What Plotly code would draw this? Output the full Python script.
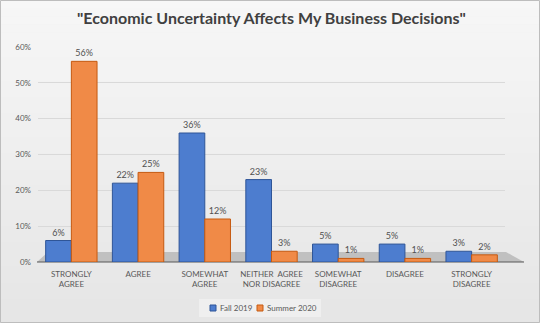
import plotly.graph_objects as go

categories = ["STRONGLY<br>AGREE", "AGREE", "SOMEWHAT<br>AGREE", "NEITHER  AGREE<br>NOR DISAGREE",
              "SOMEWHAT<br>DISAGREE", "DISAGREE", "STRONGLY<br>DISAGREE"]
series_names = ["Fall 2019", "Summer 2020"]
fall_2019 = [6, 22, 36, 23, 5, 5, 3]
summer_2020 = [56, 25, 12, 3, 1, 1, 2]
y_ticks = [0, 10, 20, 30, 40, 50, 60]
y_tick_labels = [f"{v}%" for v in y_ticks]

W, H = 540, 323
x0, x1 = 38, 505          # plot area in pixels (left/right)
y_top, y_bot = 47, 262    # plot area in pixels (top/bottom)
PW, PH = x1 - x0, y_bot - y_top


def px_x(px):
    return (px - x0) / PW


def px_y(py):
    return (y_bot - py) / PH


fills = ["#4d7dcf", "#f08a47"]
edges = ["#2f5597", "#c55a11"]

fig = go.Figure()
for name, vals, fc, ec in zip(series_names, [fall_2019, summer_2020], fills, edges):
    fig.add_trace(go.Bar(
        name=name, x=categories, y=vals,
        marker=dict(color=fc, line=dict(color=ec, width=1)),
        text=[f"{v}%" for v in vals], textposition="outside",
        textfont=dict(size=9, color="#505050", family="Lato"), cliponaxis=False,
        showlegend=False,
    ))

# soft vertical background gradient
shapes = []
bands = 40
for i in range(bands):
    t = i / (bands - 1)
    c = int(247 - t * 17)
    shapes.append(dict(type="rect", xref="paper", yref="paper", layer="below",
                       x0=px_x(-2), x1=px_x(W + 2),
                       y0=px_y((i + 1) * H / bands + 0.5), y1=px_y(i * H / bands),
                       fillcolor=f"rgb({c},{c},{c})", line=dict(width=0)))
# floor of the plot
shapes.append(dict(type="path", xref="paper", yref="paper", layer="below",
                   path=f"M {px_x(37)},0 L {px_x(524)},0 L {px_x(506)},{px_y(252)} L {px_x(48)},{px_y(252)} Z",
                   fillcolor="#c0c0c0", line=dict(width=0)))
shapes.append(dict(type="line", xref="paper", yref="paper", layer="below",
                   x0=px_x(37), x1=px_x(524), y0=0, y1=0, line=dict(color="#595959", width=1)))

# legend: light box, coloured squares and labels
annotations = []
shapes.append(dict(type="rect", xref="paper", yref="paper", layer="below",
                   x0=px_x(199), x1=px_x(321), y0=px_y(317), y1=px_y(299),
                   fillcolor="rgba(255,255,255,0.35)", line=dict(width=0)))
for name, fc, ec, sx in zip(series_names, fills, edges, [210, 257]):
    shapes.append(dict(type="rect", xref="paper", yref="paper", layer="above",
                       x0=px_x(sx), x1=px_x(sx + 6), y0=px_y(311), y1=px_y(305),
                       fillcolor=fc, line=dict(color=ec, width=1)))
    annotations.append(dict(text=name, xref="paper", yref="paper", showarrow=False,
                            x=px_x(sx + 8), y=px_y(308), xanchor="left", yanchor="middle",
                            font=dict(size=8, color="#595959", family="Lato")))

# outer border
shapes.append(dict(type="rect", xref="paper", yref="paper", layer="above",
                   x0=px_x(0.5), x1=px_x(W - 0.5), y0=px_y(H - 0.5), y1=px_y(0.5),
                   line=dict(color="#bdbdbd", width=1)))

fig.update_layout(
    width=W, height=H,
    margin=dict(l=x0, r=W - x1, t=y_top, b=H - y_bot, autoexpand=False),
    paper_bgcolor="#eeeeee", plot_bgcolor="rgba(0,0,0,0)",
    title=dict(text='"Economic Uncertainty Affects My Business Decisions"',
               font=dict(family="Lato", size=16, color="#404040", weight="bold"),
               x=0.5, xref="paper", xanchor="center", y=1 - 18 / H, yanchor="middle"),
    barmode="group", bargap=0.23, bargroupgap=0.0,
    font=dict(family="Lato", color="#595959"),
    xaxis=dict(tickfont=dict(size=8, color="#595959"), showline=False, ticks="",
               showgrid=False, fixedrange=True, automargin=False, ticklabelstandoff=6),
    yaxis=dict(range=[0, 60], tickvals=y_ticks, ticktext=y_tick_labels,
               tickfont=dict(size=8, color="#595959"), gridcolor="#d9d9d9",
               showline=False, zeroline=False, ticks="", ticklen=0, fixedrange=True,
               ticklabelstandoff=6, automargin=False),
    showlegend=False,
    shapes=shapes,
    annotations=annotations,
)

fig.write_html("out.html")
